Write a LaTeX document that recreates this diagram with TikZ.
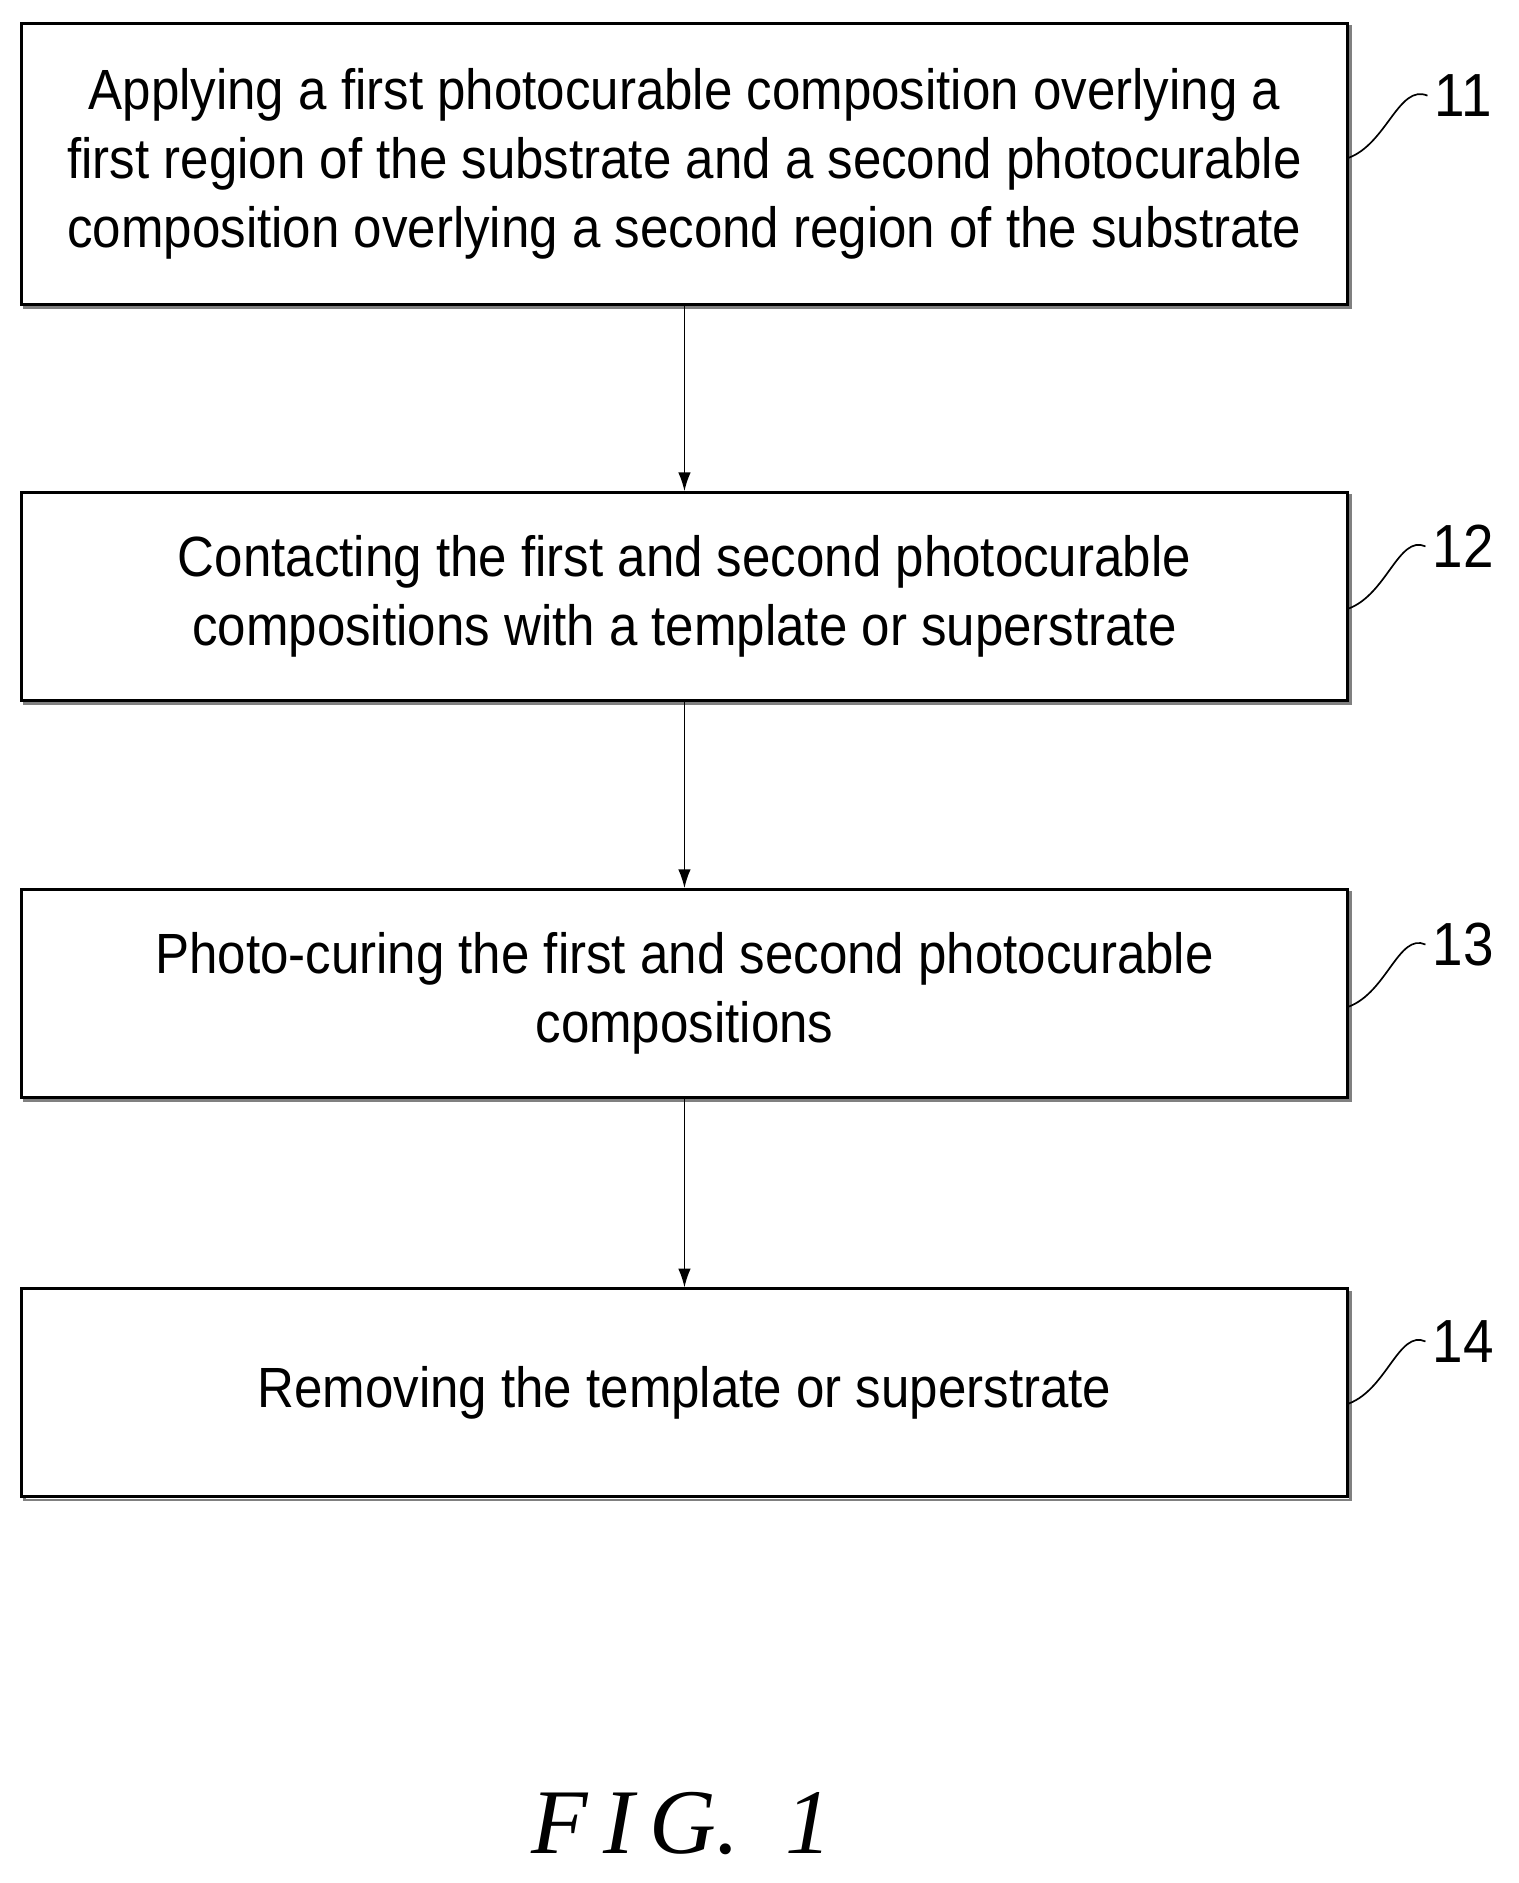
\documentclass[tikz,border=0pt]{standalone}
\usepackage{fontspec}
\setmainfont{Liberation Sans}[FakeStretch=0.90]
\newfontfamily\figfont{Liberation Serif}
\usetikzlibrary{positioning,arrows.meta}
\tikzset{
  stepbox/.style={draw, line width=1.3pt, fill=white, minimum width=22.18cm,
    align=center, font=\fontsize{27}{33}\selectfont,
    preaction={draw=gray, line width=1.3pt, transform canvas={xshift=1.5pt, yshift=-1.5pt}}},
  link/.style={-{Latex[length=9pt,width=6pt]}, line width=0.8pt},
  tag/.style={font=\fontsize{29}{33}\selectfont},
  lead/.style={line width=0.8pt}
}
\begin{document}
\begin{tikzpicture}[x=0.02cm, y=-0.02cm]
  \useasboundingbox (0,0) rectangle (1270,1575);
  % steps
  \node[stepbox, minimum height=4.7cm] (s11) at (572.5,137) {Applying a first photocurable composition overlying a\\first region of the substrate and a second photocurable\\composition overlying a second region of the substrate};
  \node[stepbox, minimum height=3.48cm] (s12) at (572.5,499) {Contacting the first and second photocurable\\compositions with a template or superstrate};
  \node[stepbox, minimum height=3.48cm] (s13) at (572.5,831) {Photo-curing the first and second photocurable\\compositions};
  \node[stepbox, minimum height=3.48cm] (s14) at (572.5,1165) {Removing the template or superstrate};
  % arrows
  \draw[link] (s11) -- (s12);
  \draw[link] (s12) -- (s13);
  \draw[link] (s13) -- (s14);
  % reference numerals
  \foreach \n/\y in {11/80, 12/457, 13/790, 14/1122}{
    \node[tag] (t\n) at (1224,\y) {\n};
    \draw[lead] (s\n.east |- 0,\y+52) .. controls (1160,\y+40) and (1170,\y-10) .. (t\n.west);
  }
  \node[font=\figfont\itshape\fontsize{44}{50}\selectfont] (fig) at (570,1525) {F\,I\,G.\ \ 1};
\end{tikzpicture}
\end{document}
